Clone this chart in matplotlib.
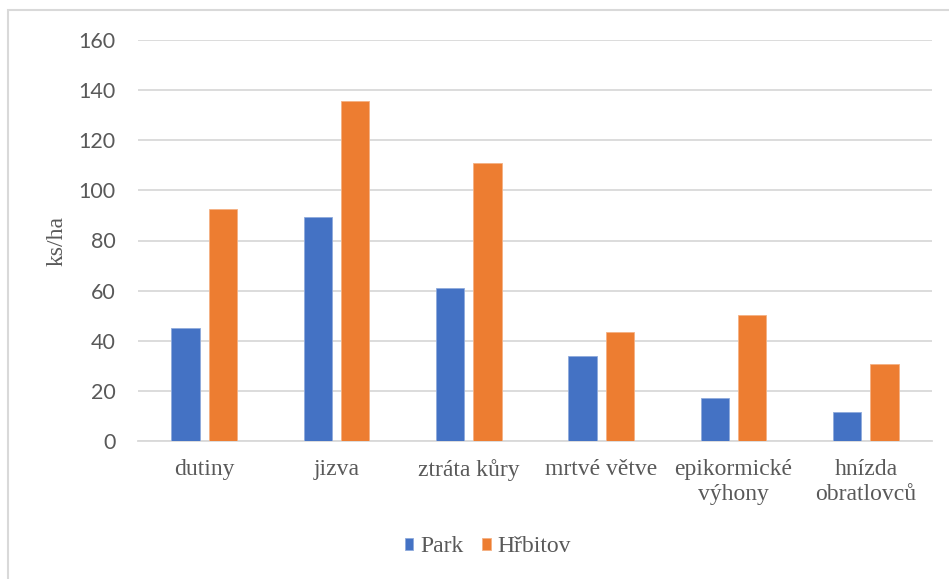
import matplotlib.pyplot as plt
import matplotlib.patches as patches
import numpy as np

plt.rcParams['font.serif'] = ['Liberation Serif', 'Times New Roman', 'DejaVu Serif']

# Data
categories = ["dutiny", "jizva", "ztráta kůry", "mrtvé větve", "epikormické\nvýhony", "hnízda\nobratlovců"]
park = [45.2, 89.3, 61.2, 34.0, 17.3, 11.6]
hrbitov = [92.4, 135.6, 110.8, 43.6, 50.1, 30.9]
yticks = [0, 20, 40, 60, 80, 100, 120, 140, 160]

blue = "#4472C4"
orange = "#ED7D31"
grid_col = "#D9D9D9"
text_col = "#595959"

fig = plt.figure(figsize=(9.49, 5.79), dpi=100)
ax = fig.add_axes([138 / 949, 138 / 579, (932 - 138) / 949, (441 - 40) / 579])

x = np.arange(len(categories))
w = 0.215
off = 0.1415
ax.bar(x - off, park, w, color=blue, edgecolor="#8FAADC", linewidth=0.6, label="Park", zorder=3)
ax.bar(x + off, hrbitov, w, color=orange, edgecolor="#F4B183", linewidth=0.6, label="Hřbitov", zorder=3)

ax.set_xlim(-0.5, len(categories) - 0.5)
ax.set_ylim(0, 160)
ax.set_yticks(yticks)
ax.set_yticklabels([str(v) for v in yticks], fontfamily="Lato", fontsize=15.5, color=text_col)
ax.set_xticks(x)
ax.set_xticklabels(categories, fontfamily="serif", fontsize=17, color=text_col,
                   linespacing=1.25, va="top")
ax.tick_params(axis="y", length=0, pad=16)
ax.tick_params(axis="x", length=0, pad=13)

ax.grid(axis="y", color=grid_col, linewidth=1.3, zorder=0)
for s in ["top", "right", "left"]:
    ax.spines[s].set_visible(False)
ax.spines["bottom"].set_color(grid_col)
ax.spines["bottom"].set_linewidth(1.3)

fig.text(57 / 949, 1 - 241 / 579, "ks/ha", rotation=90, fontfamily="serif",
         fontsize=17, color=text_col, ha="center", va="center")

# Legend
leg = fig.legend(loc="center", bbox_to_anchor=(488 / 949, 1 - 547 / 579), ncol=2, frameon=False,
                 prop={"family": "serif", "size": 17},
                 handlelength=0.35, handleheight=0.42, handletextpad=0.3, columnspacing=0.8)
for t in leg.get_texts():
    t.set_color(text_col)

# Chart border
fig.patches.append(patches.Rectangle((8 / 949, -0.1), 1.2, 1.1 - 10 / 579, transform=fig.transFigure,
                                     fill=False, edgecolor=grid_col, linewidth=1.5, clip_on=False))

fig.savefig("out.png", dpi=100)
